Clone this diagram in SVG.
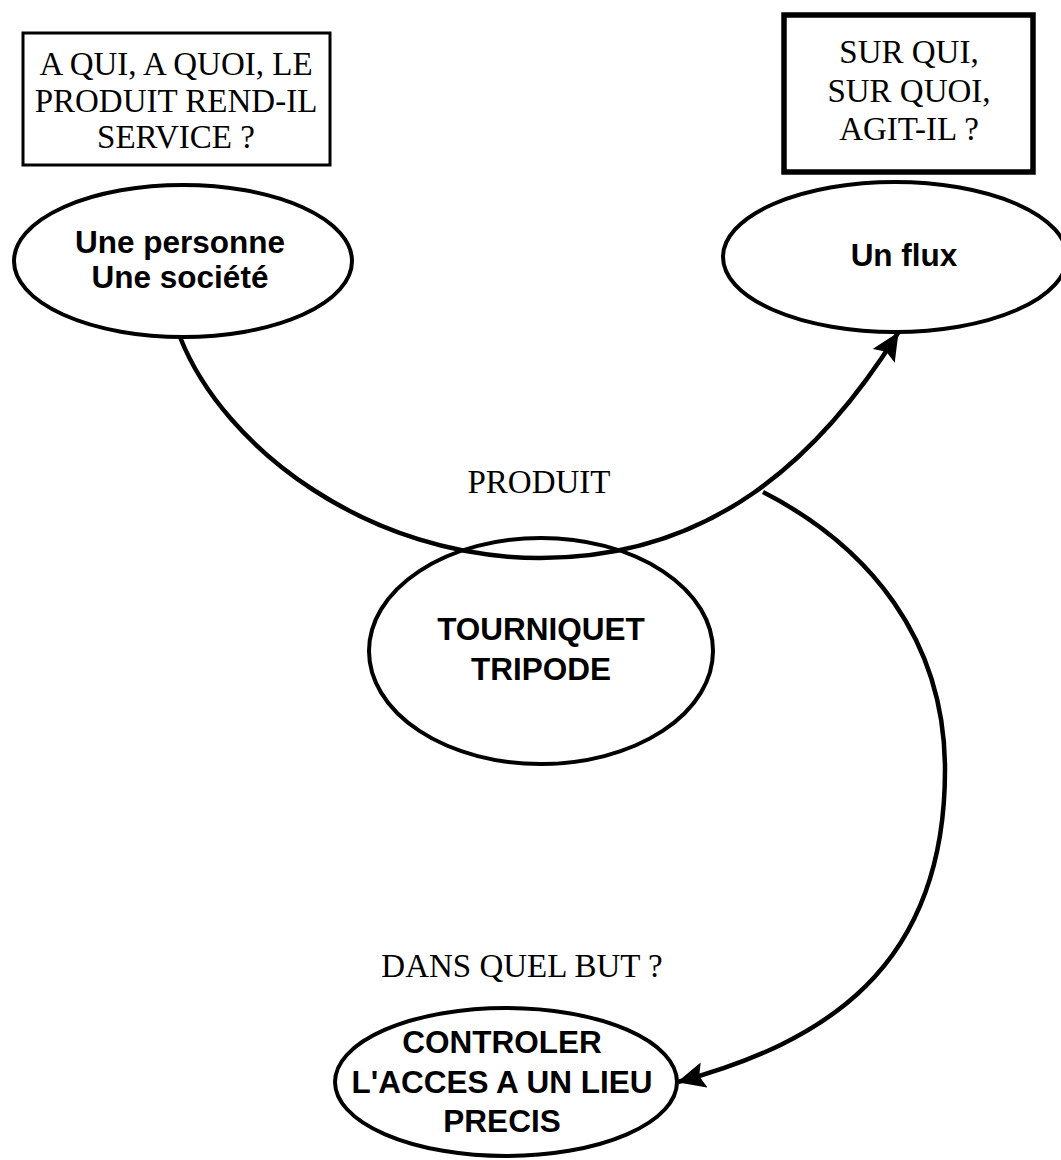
<svg xmlns="http://www.w3.org/2000/svg" width="1061" height="1160" viewBox="0 0 1061 1160">
<style>
.q{font-family:"Liberation Serif","Times New Roman",serif;font-size:33px;fill:#000;text-anchor:middle}
.b{font-family:"Liberation Sans",Arial,sans-serif;font-size:31.5px;font-weight:bold;fill:#000;text-anchor:middle}
.el{fill:none;stroke:#000;stroke-width:4}
.bx{fill:#fff;stroke:#000}
.c{fill:none;stroke:#000;stroke-width:4.5}
</style>
<defs>
<marker id="ah" markerUnits="userSpaceOnUse" viewBox="0 0 28 26" refX="27" refY="13" markerWidth="28" markerHeight="26" orient="auto">
<path d="M0,0 L28,13 L0,26 L5,13 z" fill="#000"/>
</marker>
</defs>
<rect width="1061" height="1160" fill="#fff"/>
<g id="q-left">
<rect class="bx" x="23" y="33" width="307" height="132" stroke-width="3"/>
<text class="q" x="176" y="75">A QUI, A QUOI, LE</text>
<text class="q" x="176" y="112">PRODUIT REND-IL</text>
<text class="q" x="176" y="148">SERVICE ?</text>
</g>
<g id="q-right">
<rect class="bx" x="784" y="15" width="249" height="157" stroke-width="5.5"/>
<text class="q" x="909" y="63">SUR QUI,</text>
<text class="q" x="909" y="102">SUR QUOI,</text>
<text class="q" x="909" y="140">AGIT-IL ?</text>
</g>
<g id="n-personne">
<ellipse class="el" cx="183" cy="261" rx="169" ry="76"/>
<text class="b" x="180" y="253">Une personne</text>
<text class="b" x="180" y="288">Une société</text>
</g>
<g id="n-flux">
<ellipse class="el" cx="895" cy="257" rx="172" ry="75"/>
<text class="b" x="904" y="266">Un flux</text>
</g>
<g id="n-produit">
<ellipse class="el" cx="541" cy="651" rx="172" ry="113"/>
<text class="b" x="541" y="640">TOURNIQUET</text>
<text class="b" x="541" y="680">TRIPODE</text>
</g>
<g id="n-but">
<ellipse class="el" cx="506" cy="1082" rx="171" ry="74"/>
<text class="b" x="502" y="1053">CONTROLER</text>
<text class="b" x="502" y="1093">L'ACCES A UN LIEU</text>
<text class="b" x="502" y="1132">PRECIS</text>
</g>
<g id="labels">
<text class="q" x="539" y="493">PRODUIT</text>
<text class="q" x="522" y="977">DANS QUEL BUT ?</text>
</g>
<g id="connectors">
<path class="c" d="M180,337 C224,449 370,558 540,558 C710,558 818,461 898,333" marker-end="url(#ah)"/>
<path class="c" d="M763,492 C870,547 945,640 945,770 C945,970 822,1043 678,1082" marker-end="url(#ah)"/>
</g>
</svg>
